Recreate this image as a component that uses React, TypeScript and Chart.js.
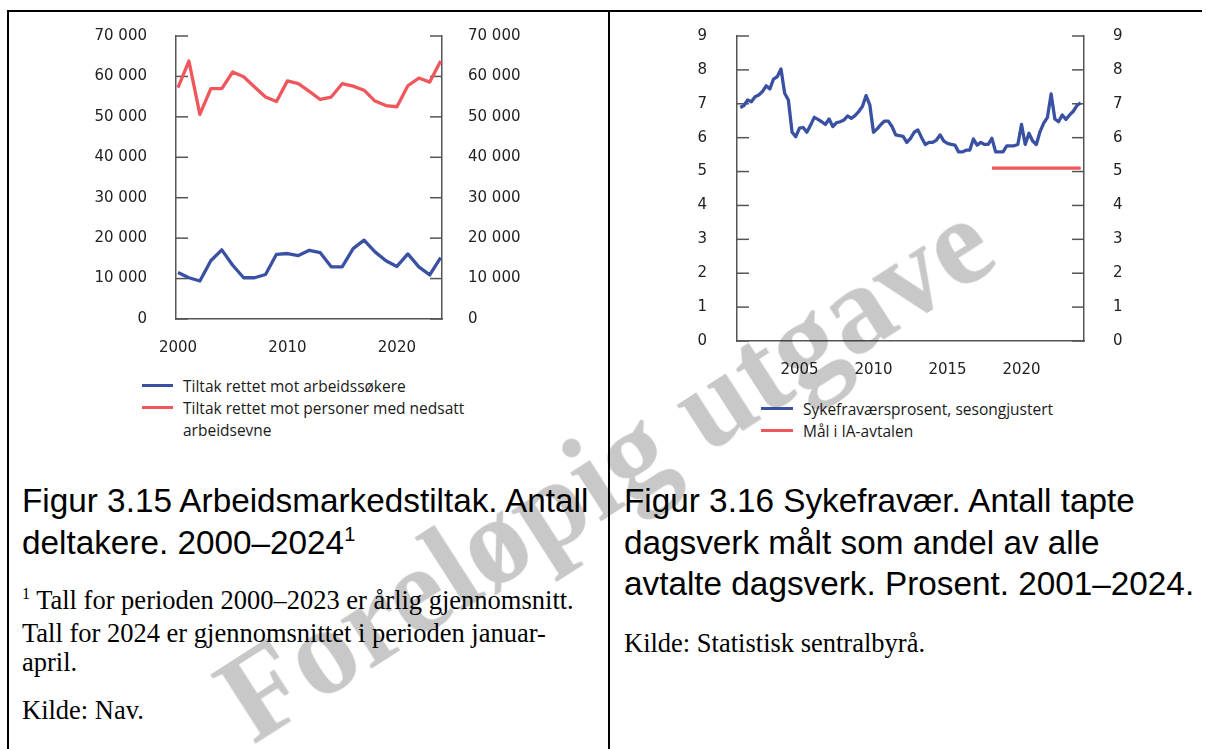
import React, { useEffect, useRef } from "react";
import { Chart, registerables } from "chart.js";

Chart.register(...registerables);

// ---------- Figure 3.15 data ----------
const years = [
  2000, 2001, 2002, 2003, 2004, 2005, 2006, 2007, 2008, 2009, 2010, 2011, 2012,
  2013, 2014, 2015, 2016, 2017, 2018, 2019, 2020, 2021, 2022, 2023, 2024,
];
const jobSeekers = [
  11500, 10200, 9400, 14400, 17100, 13300, 10200, 10200, 11000, 16000, 16200,
  15700, 17000, 16400, 12900, 12900, 17400, 19500, 16600, 14400, 13000, 16100,
  12900, 10900, 15200,
];
const reducedCapacity = [
  57200, 63800, 50600, 57000, 57000, 61100, 59900, 57400, 54900, 53800, 58900,
  58200, 56300, 54300, 54900, 58200, 57600, 56600, 53900, 52800, 52500, 57700,
  59600, 58600, 63800,
];
const leftYTicks = [0, 10000, 20000, 30000, 40000, 50000, 60000, 70000];
const leftXTicks = [2000, 2010, 2020];

// ---------- Figure 3.16 data ----------
const sickStartYear = 2001; // first quarter of 2001, then one value per quarter
const sickLeave = [
  6.89, 6.95, 7.11, 7.06, 7.21, 7.26, 7.36, 7.53, 7.44, 7.73, 7.8, 8.03, 7.31,
  7.11, 6.16, 6.03, 6.28, 6.3, 6.16, 6.37, 6.6, 6.54, 6.47, 6.39, 6.55, 6.33,
  6.44, 6.47, 6.52, 6.64, 6.57, 6.65, 6.77, 6.92, 7.24, 6.97, 6.16, 6.26, 6.39,
  6.49, 6.49, 6.33, 6.08, 6.06, 6.04, 5.86, 5.98, 6.16, 6.23, 6.0, 5.8, 5.86,
  5.86, 5.93, 6.08, 5.9, 5.83, 5.8, 5.78, 5.58, 5.58, 5.63, 5.63, 5.96, 5.78,
  5.86, 5.8, 5.8, 5.98, 5.58, 5.58, 5.58, 5.76, 5.76, 5.76, 5.8, 6.39, 5.8,
  6.13, 5.9, 5.8, 6.18, 6.43, 6.6, 7.29, 6.55, 6.47, 6.67, 6.54, 6.67, 6.78,
  6.95, 7.03,
];
const iaTargetYears = [2018, 2024];
const iaTargetValue = 5.1;
const rightYTicks = [0, 1, 2, 3, 4, 5, 6, 7, 8, 9];
const rightXTicks = [2005, 2010, 2015, 2020];

// ---------- styles ----------
const BLUE = "#3a50a2";
const RED = "#f0565b";
const AXIS = "#555555";
const TICK_TEXT = "#222222";
const TICK_FONT = { family: "DejaVu Sans", size: 15 };

const fmtThousands = (v: number) =>
  String(v).replace(/\B(?=(\d{3})+(?!\d))/g, " ");

const innerTicks = {
  id: "innerTicks",
  beforeDatasetsDraw(chart: any) {
    const { ctx, chartArea } = chart;
    ctx.save();
    ctx.strokeStyle = AXIS;
    ctx.lineWidth = 1.5;
    const len = 12;
    ["y", "y2"].forEach((id) => {
      const s = chart.scales[id];
      if (!s) return;
      s.ticks.forEach((t: any) => {
        const py = s.getPixelForValue(t.value);
        ctx.beginPath();
        if (id === "y") {
          ctx.moveTo(chartArea.left, py);
          ctx.lineTo(chartArea.left + len, py);
        } else {
          ctx.moveTo(chartArea.right - len, py);
          ctx.lineTo(chartArea.right, py);
        }
        ctx.stroke();
      });
    });
    ctx.restore();
  },
};

// The gap between axis and label is made with an (undrawn) tick length,
// so that the label padding does not push the chart area down.
function yAxis(
  position: "left" | "right",
  min: number,
  max: number,
  tickVals: number[],
  width: number,
  gap: number,
  fmt: (v: number) => string
) {
  return {
    type: "linear",
    position,
    min,
    max,
    afterBuildTicks: (s: any) => {
      s.ticks = tickVals.map((v) => ({ value: v }));
    },
    afterFit: (s: any) => {
      s.width = width;
    },
    grid: { display: false, drawTicks: true, tickLength: gap },
    border: { display: true, color: AXIS, width: 1.5 },
    ticks: {
      padding: 0,
      color: TICK_TEXT,
      font: TICK_FONT,
      autoSkip: false,
      callback: (v: any) => fmt(Number(v)),
    },
  };
}

function xAxis(min: number, max: number, tickVals: number[], height: number) {
  return {
    type: "linear",
    position: "bottom",
    min,
    max,
    afterBuildTicks: (s: any) => {
      s.ticks = tickVals.map((v) => ({ value: v }));
    },
    afterFit: (s: any) => {
      s.height = height;
    },
    grid: { display: false, drawTicks: true, tickLength: 20 },
    border: { display: true, color: AXIS, width: 1.5 },
    ticks: {
      padding: 0,
      color: TICK_TEXT,
      font: TICK_FONT,
      autoSkip: false,
      maxRotation: 0,
      callback: (v: any) => String(v),
    },
  };
}

const lineStyle = {
  borderWidth: 3.3,
  pointRadius: 0,
  pointHoverRadius: 0,
  tension: 0,
  borderJoinStyle: "round" as const,
  fill: false,
};

function leftConfig(): any {
  return {
    type: "line",
    data: {
      datasets: [
        {
          label: "Tiltak rettet mot personer med nedsatt arbeidsevne",
          data: years.map((x, i) => ({ x, y: reducedCapacity[i] })),
          borderColor: RED,
          yAxisID: "y",
          ...lineStyle,
        },
        {
          label: "Tiltak rettet mot arbeidssøkere",
          data: years.map((x, i) => ({ x, y: jobSeekers[i] })),
          borderColor: BLUE,
          yAxisID: "y",
          ...lineStyle,
        },
      ],
    },
    options: {
      animation: false,
      responsive: false,
      maintainAspectRatio: false,
      layout: { padding: { top: 16, left: 0, right: 0, bottom: 0 } },
      plugins: { legend: { display: false }, tooltip: { enabled: false } },
      events: [],
      scales: {
        x: xAxis(1999.82, 2024.12, leftXTicks, 46),
        y: yAxis("left", 0, 70000, leftYTicks, 156, 29, fmtThousands),
        y2: yAxis("right", 0, 70000, leftYTicks, 118, 26, fmtThousands),
      },
    },
    plugins: [innerTicks],
  };
}

function rightConfig(): any {
  return {
    type: "line",
    data: {
      datasets: [
        {
          label: "Mål i IA-avtalen",
          data: iaTargetYears.map((x) => ({ x, y: iaTargetValue })),
          borderColor: RED,
          yAxisID: "y",
          ...lineStyle,
        },
        {
          label: "Sykefraværsprosent, sesongjustert",
          data: sickLeave.map((y, i) => ({ x: sickStartYear + i / 4, y })),
          borderColor: BLUE,
          yAxisID: "y",
          ...lineStyle,
        },
      ],
    },
    options: {
      animation: false,
      responsive: false,
      maintainAspectRatio: false,
      layout: { padding: { top: 16, left: 0, right: 0, bottom: 0 } },
      plugins: { legend: { display: false }, tooltip: { enabled: false } },
      events: [],
      scales: {
        x: xAxis(2000.78, 2024.22, rightXTicks, 54),
        y: yAxis("left", 0, 9, rightYTicks, 117, 30, (v) => String(v)),
        y2: yAxis("right", 0, 9, rightYTicks, 116, 29, (v) => String(v)),
      },
    },
    plugins: [innerTicks],
  };
}

const legendText: React.CSSProperties = {
  fontFamily: "'Open Sans', sans-serif",
  fontSize: 15.5,
  lineHeight: "22px",
  color: "#1a1a1a",
  whiteSpace: "nowrap",
};

function LegendRow({ color, children, sw }: { color: string; children: any; sw: number }) {
  return (
    <div style={{ display: "flex", alignItems: "flex-start" }}>
      <div
        style={{
          width: sw,
          height: 3.5,
          background: color,
          marginTop: 8.75,
          marginRight: 10,
          flex: "0 0 auto",
        }}
      />
      <div style={legendText}>{children}</div>
    </div>
  );
}

const caption: React.CSSProperties = {
  position: "absolute",
  fontFamily: "'Liberation Sans', Arial, sans-serif",
  fontSize: 33.3,
  lineHeight: "41.5px",
  color: "#000",
  whiteSpace: "nowrap",
};

const bodyText: React.CSSProperties = {
  position: "absolute",
  fontFamily: "'Liberation Serif', 'Times New Roman', serif",
  fontSize: 26.5,
  lineHeight: "29.5px",
  color: "#000",
  whiteSpace: "nowrap",
};

export default function App() {
  const leftRef = useRef<HTMLCanvasElement>(null);
  const rightRef = useRef<HTMLCanvasElement>(null);

  useEffect(() => {
    const c1 = new Chart(leftRef.current as HTMLCanvasElement, leftConfig());
    const c2 = new Chart(rightRef.current as HTMLCanvasElement, rightConfig());
    return () => {
      c1.destroy();
      c2.destroy();
    };
  }, []);

  return (
    <div
      style={{
        position: "absolute",
        left: 0,
        top: 0,
        width: 1206,
        height: 749,
        overflow: "hidden",
        background: "#fff",
      }}
    >
      {/* frame */}
      <div style={{ position: "absolute", left: 7, top: 10, width: 1195, height: 2, background: "#000" }} />
      <div style={{ position: "absolute", left: 7, top: 10, width: 2, height: 739, background: "#000" }} />
      <div style={{ position: "absolute", left: 608, top: 10, width: 2, height: 739, background: "#000" }} />

      {/* left chart */}
      <canvas
        ref={leftRef}
        width={540}
        height={345}
        style={{ position: "absolute", left: 20, top: 20, width: 540, height: 345 }}
      />
      <div style={{ position: "absolute", left: 142, top: 375.2 }}>
        <LegendRow color={BLUE} sw={31}>Tiltak rettet mot arbeidssøkere</LegendRow>
        <LegendRow color={RED} sw={31}>
          Tiltak rettet mot personer med nedsatt
          <br />
          arbeidsevne
        </LegendRow>
      </div>
      <div style={{ ...caption, left: 22, top: 480 }}>
        Figur 3.15 Arbeidsmarkedstiltak. Antall
        <br />
        deltakere. 2000–2024
        <span style={{ fontSize: 20, position: "relative", top: -13 }}>1</span>
      </div>
      <div style={{ ...bodyText, left: 22, top: 586 }}>
        <span style={{ fontSize: 16, position: "relative", top: -10 }}>1</span> Tall for perioden
        2000–2023 er årlig gjennomsnitt.
        <br />
        Tall for 2024 er gjennomsnittet i perioden januar-
        <br />
        april.
      </div>
      <div style={{ ...bodyText, left: 22, top: 695.5 }}>Kilde: Nav.</div>

      {/* right chart */}
      <canvas
        ref={rightRef}
        width={580}
        height={375}
        style={{ position: "absolute", left: 620, top: 20, width: 580, height: 375 }}
      />
      <div style={{ position: "absolute", left: 761, top: 398 }}>
        <LegendRow color={BLUE} sw={32}>Sykefraværsprosent, sesongjustert</LegendRow>
        <LegendRow color={RED} sw={32}>Mål i IA-avtalen</LegendRow>
      </div>
      <div style={{ ...caption, left: 624, top: 480 }}>
        Figur 3.16 Sykefravær. Antall tapte
        <br />
        dagsverk målt som andel av alle
        <br />
        avtalte dagsverk. Prosent. 2001–2024.
      </div>
      <div style={{ ...bodyText, left: 624, top: 629 }}>Kilde: Statistisk sentralbyrå.</div>

      {/* watermark */}
      <div
        style={{
          position: "absolute",
          left: 605,
          top: 470,
          transform: "translate(-50%, -50%) rotate(-32.7deg)",
          fontFamily: "'Liberation Serif', 'Times New Roman', serif",
          fontWeight: "bold",
          fontSize: 124,
          lineHeight: "124px",
          color: "#c8c8c8",
          whiteSpace: "nowrap",
          mixBlendMode: "multiply",
          pointerEvents: "none",
        }}
      >
        Foreløpig utgave
      </div>
    </div>
  );
}
